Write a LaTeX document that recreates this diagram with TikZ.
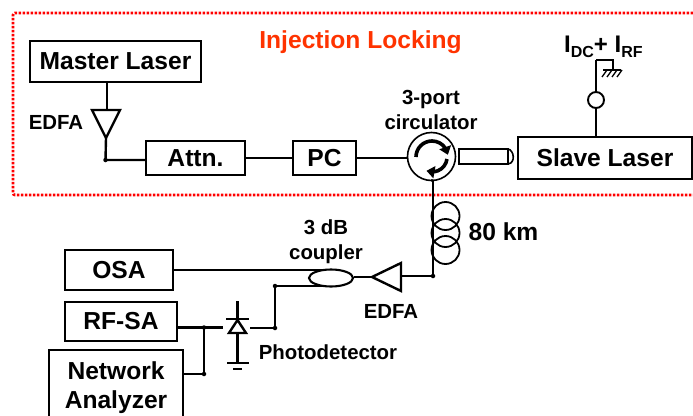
\documentclass[tikz,border=0pt]{standalone}
\usepackage{fontspec}
\setmainfont{Liberation Sans}
\usetikzlibrary{arrows.meta,shapes.geometric,bending}
\definecolor{inj}{RGB}{255,51,0}
\newcommand\dnshift[1]{\raisebox{-1.5pt}{#1}}
\tikzset{
  box/.style={draw,line width=2.1pt,inner sep=0pt,align=center,font=\fontsize{24.6}{29}\selectfont\bfseries},
  thick box/.style={box,line width=2.8pt},
  lab/.style={inner sep=0pt,align=center,font=\fontsize{20.4}{25}\selectfont\bfseries},
  fib/.style={line width=2.4pt},
  fibt/.style={line width=2.9pt},
  thinl/.style={line width=1.9pt},
  junct/.style={circle,fill=black,inner sep=0pt,minimum size=4.5pt},
}
\begin{document}
\begin{tikzpicture}[x=1pt,y=-1pt]
\useasboundingbox (0,0) rectangle (693,415);
% injection region
\draw[red,line width=2.8pt,dash pattern=on 2.4pt off 1.6pt,rounded corners=2pt]
  (693,13) -- (13,13) -- (13,195) -- (693,195);
\node[inner sep=0pt,text=inj,font=\fontsize{24.6}{29}\selectfont\bfseries] (title) at (360.5,42) {Injection Locking};
% boxes
\node[thick box,minimum width=171pt,minimum height=41pt] (master) at (115.5,61.5) {\dnshift{Master Laser}};
\node[box,minimum width=99pt,minimum height=34pt] (attn) at (195.5,158) {\dnshift{Attn.}};
\node[box,minimum width=63pt,minimum height=34pt] (pc) at (324.5,158) {\dnshift{PC}};
\node[thick box,minimum width=174pt,minimum height=42pt] (slave) at (605,158) {\dnshift{Slave Laser}};
\node[box,minimum width=108pt,minimum height=40pt] (osa) at (119,270) {OSA};
\node[box,minimum width=112pt,minimum height=39pt] (rfsa) at (121,321.5) {\dnshift{RF-SA}};
\node[box,minimum width=134pt,minimum height=76pt,anchor=north west] (na) at (48,349) {Network\\Analyzer};
% labels
\node[lab] (edfaA) at (56,122) {EDFA};
\node[lab] (edfaB) at (391,311) {EDFA};
\node[lab] (circlab) at (431,109.5) {3-port\\circulator};
\node[lab] (couplab) at (326,241.5) {3 dB\\coupler};
\node[lab] (pdlab) at (328,352) {Photodetector};
\node[inner sep=0pt,font=\fontsize{24.6}{29}\selectfont\bfseries] (km) at (503.5,232) {80 km};
\node[inner sep=0pt,anchor=base west,font=\fontsize{24}{28}\selectfont\bfseries] (bias) at (564,52) {I\raisebox{-5pt}{\fontsize{16}{18}\selectfont DC}+ I\raisebox{-5pt}{\fontsize{16}{18}\selectfont RF}};
% top EDFA
\coordinate (ea) at (92,110); \coordinate (eb) at (120,110); \coordinate (ec) at (106,138);
\draw[fib,line join=miter] (ea) -- (eb) -- (ec) -- cycle;
\coordinate (j1) at (105.5,160);
\draw[fibt] (master.south -| 107,0) -- (107,110);
\draw[fib] (ec) -- (j1) -- (j1 -| attn.west);
\node[junct] at (j1) {};
\draw[fib] (attn.east) -- (pc.west);
% circulator
\node[draw,circle,line width=1.6pt,minimum size=48pt,inner sep=0pt] (circ) at (431.5,156.5) {};
\draw[fib] (pc.east) -- (circ.west |- pc.east);
\draw[line width=3.6pt,-{Triangle[length=8pt,width=12pt,flex=0.8]}] (416,157) arc[start angle=180,end angle=352,radius=16];
\draw[line width=3.6pt,-{Triangle[length=8pt,width=12pt,flex=0.8]}] (447,159) arc[start angle=8,end angle=112,radius=15];
% collimator
\coordinate (cola) at (508,149); \coordinate (colb) at (508,164);
\node[draw,line width=1.9pt,inner sep=0pt,minimum width=49pt,minimum height=15pt] (coll) at (483.5,156.5) {};
\draw[line width=1.6pt] (cola) .. controls (514,150) and (516,163) .. (colb);
% bias
\node[draw,circle,thinl,minimum size=16pt,inner sep=0pt] (tee) at (596,100) {};
\coordinate (bt) at (596,60);
\draw[fib] (slave.north -| tee) -- (tee.south);
\draw[fib] (tee.north) -- (bt);
\draw[thinl] (bt) -- (613,60) -- (613,70);
\draw[line width=1.4pt] (603,70) -- (621,70);
\foreach \x in {607,612,617,622}{\draw[line width=1.3pt] (\x,70) -- (\x-5,77);}
% fibre spool
\coordinate (j2) at (433,276);
\draw[fibt] (circ.south) -- (433,180);
\draw[fib] (433,180) -- (j2);
\foreach \y in {216,233,250}{\draw[line width=1.8pt] (445.5,\y) circle[radius=14];}
% lower EDFA
\coordinate (fa) at (401,263); \coordinate (fb) at (401,291); \coordinate (fc) at (372,277);
\draw[fib] (fa) -- (fb) -- (fc) -- cycle;
\draw[fibt] (j2) -- (401,276);
\node[junct] at (j2) {};
% coupler
\node[draw,ellipse,line width=2.1pt,minimum width=44pt,minimum height=17pt,inner sep=0pt] (coup) at (331,278) {};
\draw[thinl] (fc) -- (fc -| coup.east);
\draw[fibt] (osa.east |- 0,270) -- (322,270);
\coordinate (j3) at (275,286); \coordinate (j4) at (275,328);
\draw[fibt] (325,286) -- (j3) -- (j4);
\draw[fib] (j4) -- (250,328);
\node[junct] at (j3) {}; \node[junct] at (j4) {};
% photodiode
\coordinate (da) at (237.5,320); \coordinate (db) at (229,333); \coordinate (dc) at (246,333);
\draw[fib] (237.5,301) -- (237.5,319);
\draw[fibt] (226,319) -- (249,319);
\draw[fib] (da) -- (db) -- (dc) -- cycle;
\draw[fib] (237.5,333) -- (237.5,363);
\draw[fib] (227,363) -- (249,363);
\draw[line width=2.2pt] (233,369) -- (242,369);
% outputs
\coordinate (j5) at (204,327.5); \coordinate (j6) at (204,374);
\draw[fibt] (rfsa.east |- j5) -- (223,327.5);
\draw[fib] (j5) -- (j6);
\draw[fib] (j6) -- (na.east |- j6);
\node[junct] at (j5) {}; \node[junct] at (j6) {};
\end{tikzpicture}
\end{document}
